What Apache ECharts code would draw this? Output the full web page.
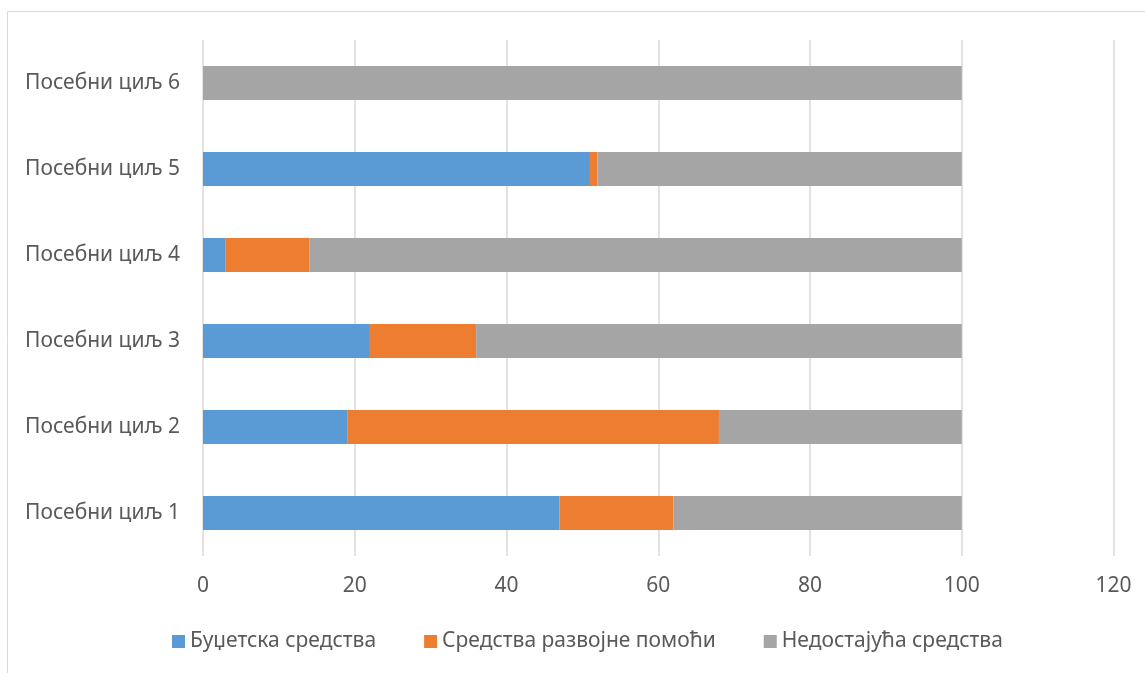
<!DOCTYPE html>
<html>
<head>
<meta charset="utf-8">
<script src="https://cdn.jsdelivr.net/npm/echarts@6/dist/echarts.min.js"></script>
<style>
html,body{margin:0;padding:0;background:#fff;}
#c{width:1145px;height:673px;}
</style>
</head>
<body>
<div id="c"></div>
<script>
const categories = ['Посебни циљ 1','Посебни циљ 2','Посебни циљ 3','Посебни циљ 4','Посебни циљ 5','Посебни циљ 6'];
const seriesNames = ['Буџетска средства','Средства развојне помоћи','Недостајућа средства'];
const budget = [47, 19, 22, 3, 51, 0];
const devAid = [15, 49, 14, 11, 1, 0];
const missing = [38, 32, 64, 86, 48, 100];
const xTicks = [0, 20, 40, 60, 80, 100, 120];
const colors = ['#5B9BD5', '#ED7D31', '#A5A5A5'];

const font = 'Noto Sans';
const chart = echarts.init(document.getElementById('c'));
const values = [budget, devAid, missing];
chart.setOption({
  animation: false,
  graphic: [{
    type: 'rect', silent: true,
    shape: {x: 7.5, y: 11.5, width: 1200, height: 700},
    style: {fill: 'none', stroke: '#d9d9d9', lineWidth: 1}
  }],
  grid: {left: 203, right: 31.5, top: 40, bottom: 117},
  legend: {
    bottom: 16, left: 167,
    icon: 'rect', itemWidth: 13, itemHeight: 13, itemGap: 48,
    textStyle: {fontFamily: font, fontSize: 21, color: '#595959'},
    data: seriesNames
  },
  xAxis: {
    type: 'value', min: xTicks[0], max: xTicks[xTicks.length - 1], interval: 20,
    axisLine: {show: false}, axisTick: {show: false},
    splitLine: {lineStyle: {color: '#d9d9d9', width: 1.5}},
    axisLabel: {fontFamily: font, fontSize: 21, color: '#595959', margin: 20}
  },
  yAxis: {
    type: 'category', data: categories,
    axisLine: {show: false}, axisTick: {show: false},
    axisLabel: {fontFamily: font, fontSize: 21, color: '#595959', margin: 23}
  },
  series: seriesNames.map((n, i) => ({
    name: n, type: 'bar', stack: 'total', data: values[i],
    barWidth: 34,
    itemStyle: {color: colors[i]}
  }))
});
</script>
</body>
</html>
